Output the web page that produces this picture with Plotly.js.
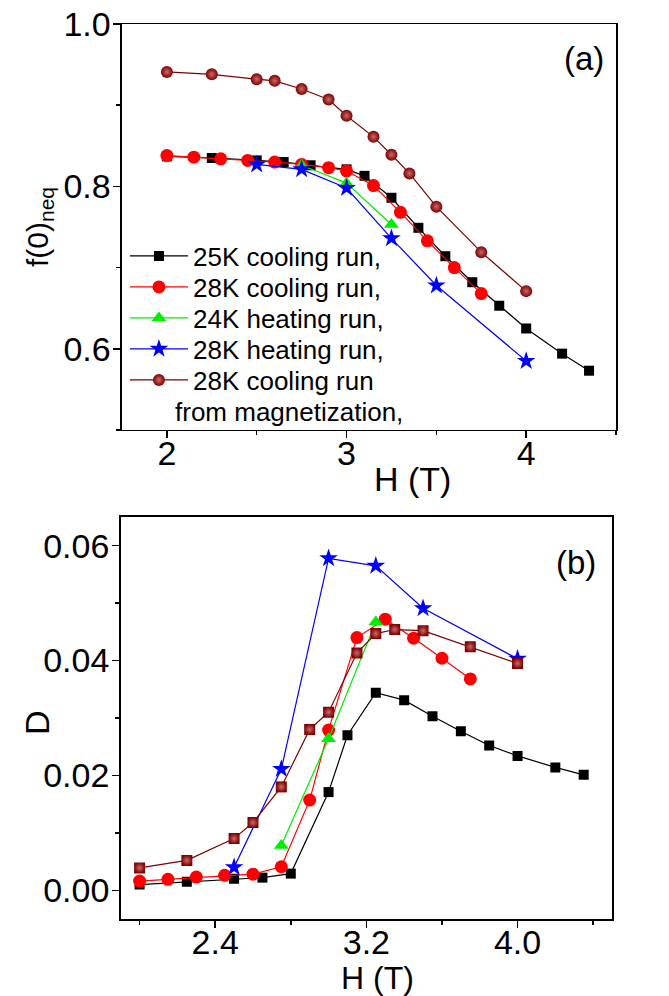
<!DOCTYPE html>
<html>
<head>
<meta charset="utf-8">
<script src="https://cdn.plot.ly/plotly-3.0.1.min.js"></script>
<style>html,body{margin:0;padding:0;background:#fff;}</style>
</head>
<body>
<div id="chart" style="width:669px;height:996px;"></div>
<script>
// ---- Data (panel a: f(0)_neq vs H; panel b: D vs H) ----
const H_25K_cool = [2.0, 2.25, 2.5, 2.65, 2.8, 3.0, 3.1, 3.25, 3.4, 3.55, 3.7, 3.85, 4.0, 4.2, 4.35];
const H_28K_cool = [2.0, 2.15, 2.3, 2.45, 2.6, 2.75, 2.9, 3.0, 3.15, 3.3, 3.45, 3.6, 3.75];
const H_24K_heat = [2.75, 3.0, 3.25];
const H_28K_heat = [2.5, 2.75, 3.0, 3.25, 3.5, 4.0];
const H_28K_mag  = [2.0, 2.25, 2.5, 2.6, 2.75, 2.9, 3.0, 3.15, 3.25, 3.35, 3.5, 3.75, 4.0];

const f_25K_cool = [0.837, 0.835, 0.832, 0.830, 0.826, 0.821, 0.813, 0.786, 0.749, 0.714, 0.682, 0.653, 0.625, 0.594, 0.573];
const f_28K_cool = [0.838, 0.836, 0.834, 0.832, 0.830, 0.827, 0.823, 0.819, 0.801, 0.768, 0.733, 0.700, 0.668];
const f_24K_heat = [0.826, 0.804, 0.753];
const f_28K_heat = [0.827, 0.821, 0.798, 0.736, 0.678, 0.585];
const f_28K_mag  = [0.941, 0.938, 0.932, 0.930, 0.920, 0.907, 0.887, 0.861, 0.839, 0.816, 0.775, 0.719, 0.671];

const D_25K_cool = [0.0010, 0.0015, 0.0020, 0.0022, 0.0029, 0.0171, 0.0270, 0.0344, 0.0331, 0.0303, 0.0277, 0.0252, 0.0234, 0.0214, 0.0201];
const D_28K_cool = [0.0016, 0.0019, 0.0023, 0.0026, 0.0028, 0.0041, 0.0157, 0.0279, 0.0440, 0.0472, 0.0439, 0.0404, 0.0368];
const D_24K_heat = [0.0078, 0.0264, 0.0467];
const D_28K_heat = [0.0040, 0.0211, 0.0578, 0.0565, 0.0491, 0.0403];
const D_28K_mag  = [0.0039, 0.0052, 0.0090, 0.0118, 0.0180, 0.0280, 0.0310, 0.0413, 0.0447, 0.0454, 0.0452, 0.0424, 0.0395];

const legendNames = ['25K cooling run,', '28K cooling run,', '24K heating run,', '28K heating run,', '28K cooling run'];
const legendNote = 'from magnetization,';

const FONT = 'Liberation Sans, Arial, Helvetica, sans-serif';
const BROWN = '#7f0000';
const COLORS = ['#000000', '#ff0000', '#00ee00', '#0000ff', BROWN];
const LEGEND_IDS = ['legend', 'legend2', 'legend3', 'legend4', 'legend5'];

function tr(x, y, i, symbol, size, xa, ya, show, extra) {
  const t = {
    x: x, y: y, name: legendNames[i], type: 'scatter', mode: 'lines+markers',
    xaxis: xa, yaxis: ya, showlegend: show, legend: LEGEND_IDS[i],
    line: {color: COLORS[i], width: 1.2},
    marker: {color: COLORS[i], symbol: symbol, size: size, line: {width: 0}}
  };
  if (extra) t.marker.gradient = extra;
  return t;
}

const grad = {type: 'radial', color: '#c86a6a'};

const data = [
  tr(H_25K_cool, f_25K_cool, 0, 'square', 10, 'x', 'y', true),
  tr(H_28K_cool, f_28K_cool, 1, 'circle', 13, 'x', 'y', true),
  tr(H_24K_heat, f_24K_heat, 2, 'triangle-up', 13, 'x', 'y', true),
  tr(H_28K_heat, f_28K_heat, 3, 'star', 14, 'x', 'y', true),
  tr(H_28K_mag,  f_28K_mag,  4, 'circle', 12, 'x', 'y', true, grad),

  tr(H_25K_cool, D_25K_cool, 0, 'square', 10, 'x2', 'y2', false),
  tr(H_28K_cool, D_28K_cool, 1, 'circle', 13, 'x2', 'y2', false),
  tr(H_24K_heat, D_24K_heat, 2, 'triangle-up', 13, 'x2', 'y2', false),
  tr(H_28K_heat, D_28K_heat, 3, 'star', 14, 'x2', 'y2', false),
  tr(H_28K_mag,  D_28K_mag,  4, 'square', 11, 'x2', 'y2', false, grad)
];

const axBase = {
  showline: true, mirror: true, linecolor: '#000', linewidth: 1.5,
  ticks: 'outside', ticklen: 7, tickwidth: 1.5, tickcolor: '#000',
  showgrid: false, zeroline: false, ticklabelposition: 'outside',
  tickfont: {family: FONT, size: 34, color: '#000'}
};
function minor(dt, t0) {
  return {dtick: dt, tick0: t0, ticks: 'outside', ticklen: 4, tickwidth: 1.5, tickcolor: '#000', showgrid: false};
}

// legend row centres (paper fractions inside panel a)
const legendRowsY = [0.7408, 0.7061, 0.6715, 0.6369, 0.6022];
function legendBox(yy) {
  return {
    x: 0.01, y: yy, xanchor: 'left', yanchor: 'middle',
    bgcolor: 'rgba(0,0,0,0)', borderwidth: 0,
    font: {family: FONT, size: 26, color: '#000'},
    itemwidth: 58
  };
}

const layout = {
  width: 669, height: 996,
  margin: {l: 120, r: 53, t: 24, b: 77},
  paper_bgcolor: '#fff', plot_bgcolor: '#fff',
  font: {family: FONT, color: '#000'},
  showlegend: true,
  legend: legendBox(legendRowsY[0]),
  legend2: legendBox(legendRowsY[1]),
  legend3: legendBox(legendRowsY[2]),
  legend4: legendBox(legendRowsY[3]),
  legend5: legendBox(legendRowsY[4]),
  xaxis: Object.assign({}, axBase, {
    domain: [0.004, 1], range: [1.75, 4.5], anchor: 'y',
    tick0: 0, dtick: 1, ticklabelstandoff: -14,
    minor: minor(0.5, 0)
  }),
  yaxis: Object.assign({}, axBase, {
    domain: [0.5464, 1], range: [0.5, 1.0], anchor: 'x',
    tick0: 0, dtick: 0.2, tickformat: '.1f', ticklabelstandoff: -4,
    minor: minor(0.1, 0),
    title: {text: 'f(0)<sub>neq</sub>', font: {family: FONT, size: 30, color: '#000'}, standoff: 6}
  }),
  xaxis2: Object.assign({}, axBase, {
    domain: [0.0014, 0.992], range: [1.9, 4.5], anchor: 'y2',
    tick0: 2.4, dtick: 0.8, tickformat: '.1f', ticklabelstandoff: -14,
    minor: minor(0.4, 2.0)
  }),
  yaxis2: Object.assign({}, axBase, {
    domain: [0, 0.4492], range: [-0.005, 0.065], anchor: 'x2',
    tick0: 0, dtick: 0.02, tickformat: '.2f', ticklabelstandoff: -4,
    minor: minor(0.01, 0)
  }),
  annotations: [
    {text: 'H (T)', xref: 'paper', yref: 'paper', x: 0.59, y: 0.4916, xanchor: 'center', yanchor: 'middle',
     showarrow: false, font: {family: FONT, size: 34, color: '#000'}},
    {text: 'H (T)', xref: 'paper', yref: 'paper', x: 0.52, y: -0.0659, xanchor: 'center', yanchor: 'middle',
     showarrow: false, font: {family: FONT, size: 32, color: '#000'}},
    {text: 'D', xref: 'paper', yref: 'paper', x: -0.1673, y: 0.219, xanchor: 'center', yanchor: 'middle',
     textangle: -90, showarrow: false, font: {family: FONT, size: 34, color: '#000'}},
    {text: legendNote, xref: 'paper', yref: 'paper', x: 0.107, y: 0.5665, xanchor: 'left', yanchor: 'middle',
     showarrow: false, font: {family: FONT, size: 26, color: '#000'}},
    {text: '(a)', xref: 'paper', yref: 'paper', x: 0.935, y: 0.962, xanchor: 'center', yanchor: 'middle',
     showarrow: false, font: {family: FONT, size: 33, color: '#000'}},
    {text: '(b)', xref: 'paper', yref: 'paper', x: 0.919, y: 0.398, xanchor: 'center', yanchor: 'middle',
     showarrow: false, font: {family: FONT, size: 33, color: '#000'}}
  ]
};

Plotly.newPlot('chart', data, layout, {displayModeBar: false, staticPlot: true});
</script>
</body>
</html>
